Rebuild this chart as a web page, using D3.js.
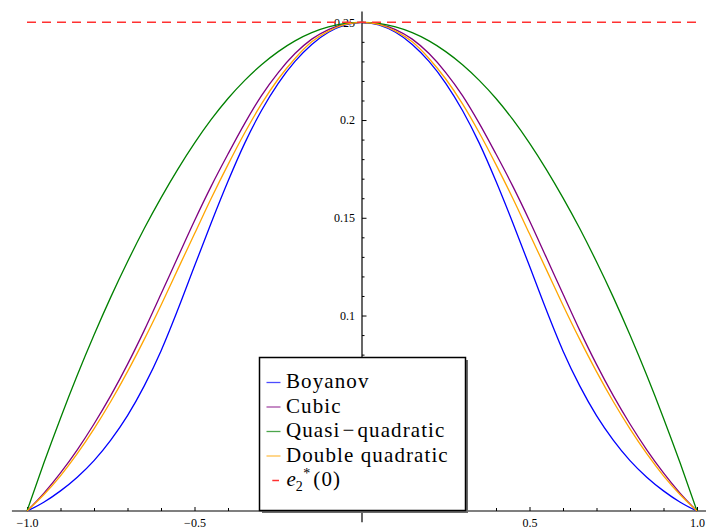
<!DOCTYPE html>
<html>
<head>
<meta charset="utf-8">
<script src="https://cdn.jsdelivr.net/npm/d3@7"></script>
<style>
  body { margin: 0; background: #fff; }
  svg { display: block; font-family: "Liberation Serif", "DejaVu Serif", serif; }
</style>
</head>
<body>
<div id="chart"></div>
<script>
// values, x from -1 to 1 in steps of 0.05
var xs = [-1, -0.95, -0.9, -0.85, -0.8, -0.75, -0.7, -0.65, -0.6, -0.55, -0.5,
  -0.45, -0.4, -0.35, -0.3, -0.25, -0.2, -0.15, -0.1, -0.05, 0,
  0.05, 0.1, 0.15, 0.2, 0.25, 0.3, 0.35, 0.4, 0.45, 0.5,
  0.55, 0.6, 0.65, 0.7, 0.75, 0.8, 0.85, 0.9, 0.95, 1];

var boyanov = [0, 0.0045, 0.0103, 0.0173, 0.0258, 0.0363, 0.0488, 0.0640, 0.0819, 0.1029, 0.1253,
  0.1475, 0.1687, 0.1882, 0.2049, 0.2188, 0.2300, 0.2387, 0.2449, 0.2487, 0.25,
  0.2487, 0.2449, 0.2387, 0.2300, 0.2188, 0.2049, 0.1882, 0.1687, 0.1475, 0.1253,
  0.1029, 0.0819, 0.0640, 0.0488, 0.0363, 0.0258, 0.0173, 0.0103, 0.0045, 0];

var cubic = [0, 0.0090, 0.0195, 0.0313, 0.0445, 0.0590, 0.0750, 0.0924, 0.1110, 0.1298, 0.1485,
  0.1662, 0.1826, 0.1983, 0.2125, 0.2243, 0.2340, 0.2414, 0.2463, 0.2491, 0.25,
  0.2491, 0.2463, 0.2414, 0.2340, 0.2243, 0.2125, 0.1983, 0.1826, 0.1662, 0.1485,
  0.1298, 0.1110, 0.0924, 0.0750, 0.0590, 0.0445, 0.0313, 0.0195, 0.0090, 0];

var quasiQuadratic = [0, 0.0244, 0.0475, 0.0694, 0.0900, 0.1094, 0.1275, 0.1445, 0.1602, 0.1748, 0.1882,
  0.2003, 0.2110, 0.2203, 0.2283, 0.2350, 0.2405, 0.2447, 0.2476, 0.2494, 0.25,
  0.2494, 0.2476, 0.2447, 0.2405, 0.2350, 0.2283, 0.2203, 0.2110, 0.2003, 0.1882,
  0.1748, 0.1602, 0.1445, 0.1275, 0.1094, 0.0900, 0.0694, 0.0475, 0.0244, 0];

var doubleQuadratic = [0, 0.0083, 0.0180, 0.0293, 0.0420, 0.0560, 0.0713, 0.0878, 0.1053, 0.1236, 0.1418,
  0.1600, 0.1772, 0.1935, 0.2083, 0.2210, 0.2315, 0.2400, 0.2455, 0.2489, 0.25,
  0.2489, 0.2455, 0.2400, 0.2315, 0.2210, 0.2083, 0.1935, 0.1772, 0.1600, 0.1418,
  0.1236, 0.1053, 0.0878, 0.0713, 0.0560, 0.0420, 0.0293, 0.0180, 0.0083, 0];

var e2Star = 0.25;   // e_2^*(0)

var seriesNames = ["Boyanov", "Cubic", "Quasi\u2212quadratic", "Double quadratic"];
var seriesColors = ["#0000ff", "#800080", "#008000", "#ffa500"];

var xTicks = [-1, -0.5, 0.5, 1];
var xTickLabels = ["\u22121.0", "\u22120.5", "0.5", "1.0"];
var yTicks = [0.05, 0.1, 0.15, 0.2, 0.25];
var yTickLabels = ["", "0.1", "0.15", "0.2", "0.25"];   // 0.05 sits under the legend

function drawChart() {
  var width = 706;
  var height = 529;

  var x = d3.scaleLinear().domain([-1, 1]).range([27, 697]);
  var y = d3.scaleLinear().domain([0, 0.25]).range([511, 22.3]);

  var svg = d3.select("#chart")
    .append("svg")
    .attr("width", width)
    .attr("height", height);

  // minor tick positions
  var xMinor = d3.range(-10, 11).map(d => d / 10).filter(d => Math.abs(d * 2 % 1) > 1e-9);
  var yMinor = d3.range(1, 26).map(d => d / 100).filter(d => Math.round(d * 100) % 5 != 0);

  // y axis: ticks point right, labels on the left
  var yAxis = d3.axisLeft(y)
    .tickValues(yTicks)
    .tickFormat((d, i) => yTickLabels[i])
    .tickSizeInner(-4.5)
    .tickSizeOuter(0)
    .tickPadding(7);

  var yMinorAxis = d3.axisLeft(y)
    .tickValues(yMinor)
    .tickFormat("")
    .tickSizeInner(-2.5)
    .tickSizeOuter(0);

  var xAxis = d3.axisBottom(x)
    .tickValues(xTicks)
    .tickFormat((d, i) => xTickLabels[i])
    .tickSizeInner(-4)
    .tickSizeOuter(0)
    .tickPadding(7.5);

  var xMinorAxis = d3.axisBottom(x)
    .tickValues(xMinor)
    .tickFormat("")
    .tickSizeInner(-3)
    .tickSizeOuter(0);

  [yAxis, yMinorAxis].forEach(function(ax) {
    svg.append("g")
      .attr("transform", "translate(" + x(0) + ",0)")
      .call(ax)
      .call(g => g.select(".domain").remove())
      .attr("font-family", "Liberation Serif, serif")
      .attr("font-size", 12);
  });

  [xAxis, xMinorAxis].forEach(function(ax) {
    svg.append("g")
      .attr("transform", "translate(0," + y(0) + ")")
      .call(ax)
      .call(g => g.select(".domain").remove())
      .attr("font-family", "Liberation Serif, serif")
      .attr("font-size", 12);
  });

  // spines through the origin
  svg.append("line")
    .attr("x1", x(-1.045)).attr("x2", x(1.05))
    .attr("y1", y(0)).attr("y2", y(0))
    .attr("stroke", "#000").attr("stroke-width", 1.2);

  svg.append("line")
    .attr("x1", x(0)).attr("x2", x(0))
    .attr("y1", y(0.2555)).attr("y2", y(-0.0057))
    .attr("stroke", "#000").attr("stroke-width", 1.2);

  var line = d3.line()
    .x((d, i) => x(xs[i]))
    .y(d => y(d))
    .curve(d3.curveMonotoneX);

  var allSeries = [boyanov, cubic, quasiQuadratic, doubleQuadratic];

  svg.selectAll(".curve")
    .data(allSeries)
    .enter()
    .append("path")
    .attr("class", "curve")
    .attr("d", d => line(d))
    .attr("fill", "none")
    .attr("stroke", (d, i) => seriesColors[i])
    .attr("stroke-width", 1.3);

  svg.append("line")
    .attr("x1", x(-1)).attr("x2", x(1))
    .attr("y1", y(e2Star)).attr("y2", y(e2Star))
    .attr("stroke", "#ff3030")
    .attr("stroke-width", 1.5)
    .attr("stroke-dasharray", "9,6");

  // legend
  var legend = svg.append("g")
    .attr("transform", "translate(259.5,357.5)");

  legend.append("rect")
    .attr("x", 2.5).attr("y", 2.5)
    .attr("width", 206).attr("height", 153)
    .attr("fill", "#6a6a6a");

  legend.append("rect")
    .attr("width", 206).attr("height", 153)
    .attr("fill", "#fff")
    .attr("stroke", "#000")
    .attr("stroke-width", 1.5);

  var rowY = i => 30.5 + i * 24.5;

  seriesNames.forEach(function(name, i) {
    legend.append("line")
      .attr("x1", 7).attr("x2", 21)
      .attr("y1", rowY(i) - 5.5).attr("y2", rowY(i) - 5.5)
      .attr("stroke", seriesColors[i])
      .attr("stroke-opacity", 0.7)
      .attr("stroke-width", 1.3);

    var t = legend.append("text")
      .attr("x", 26.5).attr("y", rowY(i))
      .attr("font-size", 21)
      .attr("letter-spacing", 1.1);

    // the minus gets operator spacing, as in the reference
    var parts = name.split("\u2212");
    if (parts.length == 2) {
      t.append("tspan").text(parts[0]);
      t.append("tspan").attr("dx", 2).text("\u2212");
      t.append("tspan").attr("dx", 2).text(parts[1]);
    } else {
      t.text(name);
    }
  });

  legend.append("line")
    .attr("x1", 12.8).attr("x2", 19.5)
    .attr("y1", rowY(4) - 5.5).attr("y2", rowY(4) - 5.5)
    .attr("stroke", "#ff3030")
    .attr("stroke-width", 1.5);

  var eLabel = legend.append("text")
    .attr("x", 27).attr("y", rowY(4))
    .attr("font-size", 21);
  eLabel.append("tspan").attr("font-style", "italic").text("e");
  eLabel.append("tspan").attr("font-size", 14).attr("dy", 5).text("2");
  eLabel.append("tspan").attr("font-size", 14).attr("dy", -13).attr("dx", 0.5).text("*");
  eLabel.append("tspan").attr("dy", 8).attr("dx", 3).attr("letter-spacing", 1.1).text("(0)");
}

drawChart();
</script>
</body>
</html>
